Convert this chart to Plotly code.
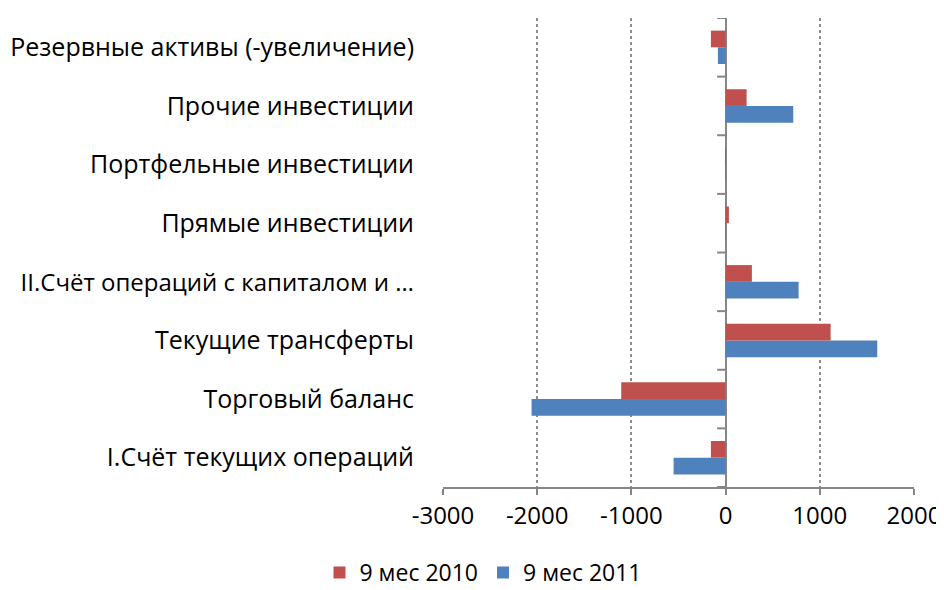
import plotly.graph_objects as go

categories = [
    "I.Счёт текущих операций",
    "Торговый баланс",
    "Текущие трансферты",
    "II.Счёт операций с капиталом и …",
    "Прямые инвестиции",
    "Портфельные инвестиции",
    "Прочие инвестиции",
    "Резервные активы (-увеличение)",
]
values_2010 = [-156, -1108, 1115, 279, 35, -3, 223, -156]
values_2011 = [-552, -2060, 1610, 775, 2, -2, 718, -82]
series_names = ["9 мес 2010", "9 мес 2011"]
x_ticks = [-3000, -2000, -1000, 0, 1000, 2000]

RED = "#C0504D"
BLUE = "#4F81BD"
FONT = "Open Sans, Noto Sans, sans-serif"

# the page body adds an 8px offset; the figure is sized to fill the visible window
W, H = 936, 582

# the truncated long label is set slightly smaller so it fits like in the reference
tick_text = [f'<span style="font-size:24px">{c}</span>' if c.endswith("…") else c
             for c in categories]

fig = go.Figure()
fig.add_trace(go.Bar(y=categories, x=values_2011, orientation="h", name=series_names[1],
                     marker=dict(color=BLUE, line=dict(width=0)), legendrank=2))
fig.add_trace(go.Bar(y=categories, x=values_2010, orientation="h", name=series_names[0],
                     marker=dict(color=RED, line=dict(width=0)), legendrank=1))

# category tick marks on the zero axis
shapes = []
for i in range(len(categories) + 1):
    shapes.append(dict(type="line", xref="x", yref="y", x0=-90, x1=0,
                       y0=i - 0.5, y1=i - 0.5, line=dict(color="#868686", width=2)))

fig.update_layout(
    width=W, height=H,
    margin=dict(l=435, r=30, t=10, b=103, autoexpand=False),
    paper_bgcolor="white", plot_bgcolor="white",
    barmode="group", bargap=0.43, bargroupgap=0,
    font=dict(family=FONT, size=24, color="black"),
    showlegend=True,
    legend=dict(orientation="h", xref="container", yref="container",
                x=0.508, xanchor="center", y=0.03, yanchor="middle",
                font=dict(size=23), itemwidth=30, traceorder="normal"),
    shapes=shapes,
    xaxis=dict(range=[-3000, 2000], tickvals=x_ticks, ticktext=[str(v) for v in x_ticks],
               showgrid=True, gridcolor="#8C8C8C", griddash="dot", gridwidth=1.5,
               zeroline=True, zerolinecolor="#868686", zerolinewidth=2,
               showline=True, linecolor="#868686", linewidth=2, mirror=False,
               ticks="outside", ticklen=6, tickcolor="#868686", tickwidth=2,
               tickfont=dict(size=24), automargin=False, fixedrange=True),
    yaxis=dict(categoryorder="array", categoryarray=categories, range=[-0.5, 7.5],
               tickvals=categories, ticktext=tick_text,
               showgrid=False, zeroline=False, showline=False, ticks="",
               ticklabelstandoff=28, tickfont=dict(size=25), automargin=False,
               fixedrange=True),
)

fig.write_html("out.html")
